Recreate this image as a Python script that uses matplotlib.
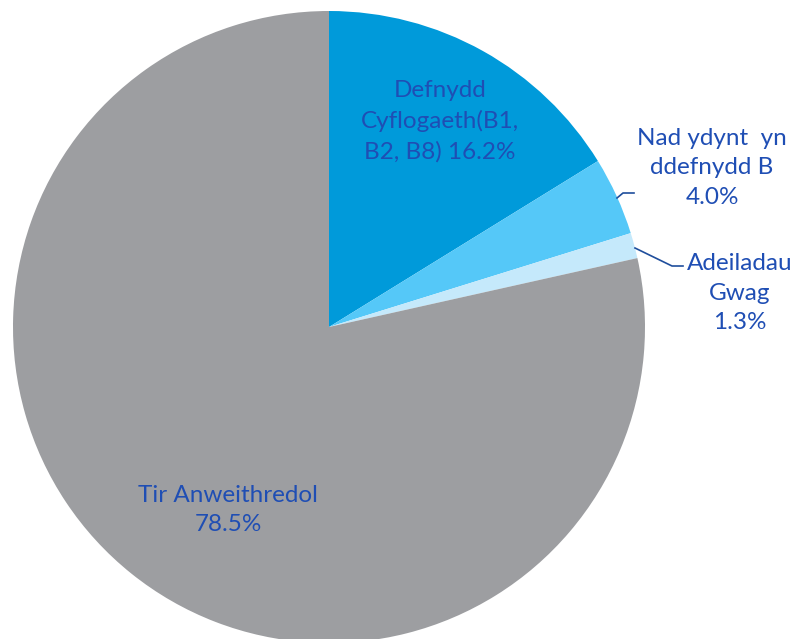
import numpy as np
import matplotlib.pyplot as plt

plt.rcParams['font.family'] = ['Lato', 'DejaVu Sans']

etiquetas = ["Defnydd\nCyflogaeth(B1,\nB2, B8)", "Nad ydynt  yn\nddefnydd B", "Adeiladau\nGwag", "Tir Anweithredol"]
valores = [16.2, 4.0, 1.3, 78.5]
colores = ["#009ADA", "#55C8F8", "#C5E9FB", "#9D9EA1"]

texto_color = "#1F4EB4"

fig = plt.figure(figsize=(7.98, 6.39), dpi=100)
ax = fig.add_axes([0, 0, 1, 1])

# pie en coordenadas de pixel (y invertida -> counterclock True da sentido horario)
wedges, _ = ax.pie(valores, colors=colores, startangle=-90, counterclock=True,
                   center=(329, 327), radius=316, frame=True)
ax.set_xlim(0, 798)
ax.set_ylim(639, 0)
ax.set_aspect("equal")
ax.axis("off")

fs = 17.5
ls = 1.5
ax.text(440, 121, etiquetas[0] + " " + f"{valores[0]:.1f}%", ha="center", va="center",
        fontsize=fs, color=texto_color, linespacing=ls)
ax.text(712, 168, etiquetas[1] + "\n" + f"{valores[1]:.1f}%", ha="center", va="center",
        fontsize=fs, color=texto_color, linespacing=ls)
ax.text(740, 293, etiquetas[2] + "\n" + f"{valores[2]:.1f}%", ha="center", va="center",
        fontsize=fs, color=texto_color, linespacing=ls)
ax.text(228, 510, etiquetas[3] + "\n" + f"{valores[3]:.1f}%", ha="center", va="center",
        fontsize=fs, color=texto_color, linespacing=ls)

# lineas guia
ax.plot([617, 623, 634], [198, 193, 193], color="#1F4E9C", lw=1.2)
ax.plot([635, 672, 683], [248, 266, 266], color="#1F4E9C", lw=1.2)

fig.savefig("out.png", dpi=100)
